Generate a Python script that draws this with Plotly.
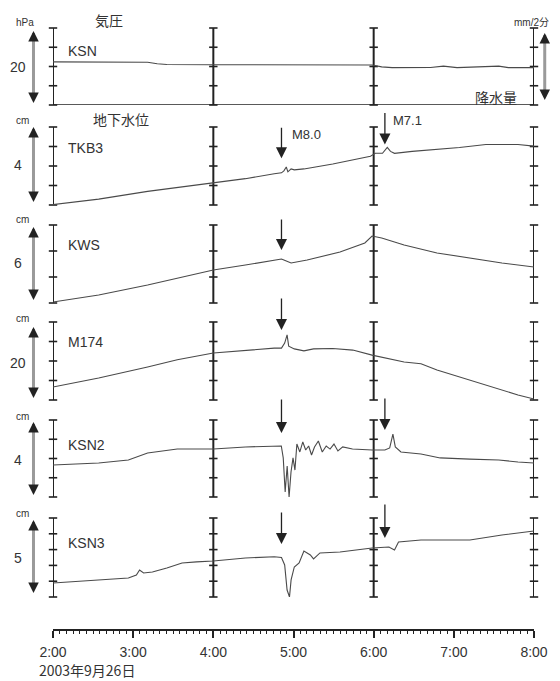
import plotly.graph_objects as go

# ---------------- data (time in decimal hours, 2003-09-26) ----------------
grid_hours = [2, 4, 6, 8]
quake_times = [4.85, 6.14]
quake_labels = ["M8.0", "M7.1"]
tick_hours = [2, 3, 4, 5, 6, 7, 8]
tick_labels = ["2:00", "3:00", "4:00", "5:00", "6:00", "7:00", "8:00"]

# KSN air pressure (relative hPa, panel span 20 hPa)
ksn_t = [2.0, 3.18, 3.30, 3.42, 4.0, 5.98, 6.10, 6.23, 6.71, 6.87, 7.04, 7.32, 7.56, 7.68, 8.0]
ksn_v = [11.2, 11.1, 10.7, 10.5, 10.45, 10.4, 9.9, 9.7, 9.75, 10.1, 9.7, 10.0, 10.1, 9.7, 9.7]
rain_t = [2.0, 3.0, 4.0, 5.0, 6.0, 7.0, 8.0]
rain_v = [0, 0, 0, 0, 0, 0, 0]

# TKB3 (cm, span 4)
tkb3_t = [2.0, 2.57, 3.18, 4.0, 4.40, 4.76, 4.85, 4.88, 4.91, 4.93, 4.97, 5.01, 5.13, 5.49, 5.96, 6.02, 6.11, 6.17, 6.21, 6.26, 6.48, 7.07, 7.40, 7.80, 8.0]
tkb3_v = [0.02, 0.3, 0.7, 1.15, 1.35, 1.6, 1.65, 1.75, 1.95, 1.7, 1.85, 1.8, 1.85, 2.1, 2.5, 2.65, 2.65, 2.95, 2.75, 2.65, 2.75, 2.95, 3.1, 3.1, 3.02]

# KWS (cm, span 6)
kws_t = [2.0, 2.57, 3.18, 4.0, 4.40, 4.76, 4.85, 4.88, 4.97, 5.17, 5.58, 5.89, 5.98, 6.10, 6.38, 6.79, 7.20, 7.60, 8.0]
kws_v = [0.08, 0.62, 1.38, 2.54, 2.92, 3.31, 3.38, 3.31, 3.08, 3.31, 3.92, 4.62, 5.15, 5.0, 4.46, 3.85, 3.46, 3.08, 2.77]

# M174 (cm, span 20)
m174_t = [2.0, 2.57, 3.18, 3.55, 4.0, 4.40, 4.76, 4.85, 4.89, 4.92, 4.94, 5.01, 5.07, 5.13, 5.25, 5.49, 5.74, 5.98, 6.38, 6.59, 6.79, 7.20, 7.60, 7.80, 8.0]
m174_v = [3.33, 5.64, 8.46, 10.3, 12.05, 12.8, 13.3, 13.3, 14.6, 16.7, 13.8, 13.1, 12.8, 12.6, 13.1, 13.2, 12.8, 11.5, 9.74, 9.3, 7.69, 5.13, 2.56, 1.28, 0.26]

# KSN2 (cm, span 4)
ksn2_t = [2.0, 2.57, 2.94, 3.18, 3.55, 4.0, 4.40, 4.76, 4.848, 4.872, 4.896, 4.921, 4.945, 4.969, 4.994,
          5.018, 5.042, 5.079, 5.116, 5.152, 5.189, 5.225, 5.262, 5.31, 5.359, 5.408, 5.456, 5.505,
          5.554, 5.614, 5.736, 5.98, 6.14, 6.20, 6.24, 6.27, 6.34, 6.59, 6.83, 7.20, 7.56, 7.80, 8.0]
ksn2_v = [1.66, 1.77, 1.92, 2.29, 2.49, 2.49, 2.6, 2.65, 2.65, 2.03, 0.26, 1.61, 0.0, 1.3, 2.03,
          1.4, 2.75, 2.34, 2.86, 2.44, 2.65, 2.18, 2.6, 2.91, 2.34, 2.65, 2.49, 2.75,
          2.39, 2.6, 2.49, 2.44, 2.44, 2.55, 3.27, 2.6, 2.34, 2.23, 2.03, 1.97, 1.92, 1.82, 1.77]

# KSN3 (cm, span 5)
ksn3_t = [2.0, 2.57, 2.94, 3.04, 3.08, 3.13, 3.24, 3.42, 3.61, 3.79, 4.0, 4.40, 4.76, 4.85, 4.89, 4.92, 4.95, 4.97, 5.01, 5.07, 5.13, 5.21, 5.25, 5.33, 5.58, 5.98, 6.19, 6.26, 6.31, 6.59, 7.20, 7.60, 8.0]
ksn3_v = [0.89, 1.08, 1.2, 1.39, 1.71, 1.52, 1.58, 1.84, 2.15, 2.22, 2.28, 2.47, 2.55, 2.5, 2.03, 0.44, 0.0, 1.08, 1.9, 2.15, 2.91, 2.66, 2.41, 2.79, 2.85, 3.1, 3.16, 2.98, 3.48, 3.61, 3.61, 3.92, 4.18]

# panel definitions: name, time, values, span (scale bar), tick step, scale-bar label, unit
panels = [
    ("KSN", ksn_t, ksn_v, 20, 5, "20", "hPa"),
    ("TKB3", tkb3_t, tkb3_v, 4, 1, "4", "cm"),
    ("KWS", kws_t, kws_v, 6, 2, "6", "cm"),
    ("M174", m174_t, m174_v, 20, 5, "20", "cm"),
    ("KSN2", ksn2_t, ksn2_v, 4, 1, "4", "cm"),
    ("KSN3", ksn3_t, ksn3_v, 5, 1, "5", "cm"),
]

# ---------------- layout geometry ----------------
OFF = 8                      # default page body margin
W, H = 560 - OFF, 681 - OFF  # figure size
PLOT_L, PLOT_R, PLOT_T, PLOT_B = 53, 546, 28, 630   # plot area in page pixels
L, T = PLOT_L - OFF, PLOT_T - OFF
PW, PH = PLOT_R - PLOT_L, PLOT_B - PLOT_T
R, B = W - L - PW, H - T - PH
panel_px = [(28, 105), (127, 205), (225, 303), (322, 400), (420, 497), (518, 597)]
name_y = [51, 148, 245, 342, 445, 543]
bar_top = [31, 127, 227, 327, 422, 520]
bar_bot = [103, 202, 300, 398, 495, 593]
val_y = [67, 165, 263, 363, 460, 558]
unit_y = [22, 120, 219, 318, 416, 513]


def px(x):
    return (x - PLOT_L) / PW


def py(y):
    return (PLOT_B - y) / PH


FONT = "Liberation Sans, Arial, Noto Sans CJK JP, sans-serif"
JFONT = "Noto Sans CJK JP, sans-serif"
LINE_C = "#4a4a4a"
INK = "#222222"
TXT = "#333333"
BAR_C = "#9a9a9a"

fig = go.Figure()
layout_axes = {}
annotations = []


def label(text, x, y, size, family=FONT, xanchor="center"):
    return dict(text=text, x=px(x), y=py(y), xref="paper", yref="paper",
                xanchor=xanchor, yanchor="middle", showarrow=False,
                font=dict(size=size, color=TXT, family=family))


def scale_bar(xp, ytop, ybot):
    out = [dict(text="", x=px(xp), y=py(ytop + 2), xref="paper", yref="paper",
                ax=0, ay=(ybot - ytop) - 4, showarrow=True, arrowhead=0,
                arrowwidth=3, arrowcolor=BAR_C)]
    out.append(dict(text="", x=px(xp), y=py(ytop), xref="paper", yref="paper",
                    ax=0, ay=8, showarrow=True, arrowhead=2, arrowsize=1.5,
                    arrowwidth=1.4, arrowcolor=INK))
    out.append(dict(text="", x=px(xp), y=py(ybot), xref="paper", yref="paper",
                    ax=0, ay=-8, showarrow=True, arrowhead=2, arrowsize=1.5,
                    arrowwidth=1.4, arrowcolor=INK))
    return out


for i, (name, t, v, span, step, slabel, unit) in enumerate(panels):
    yname = "y" if i == 0 else f"y{i + 1}"
    ykey = "yaxis" if i == 0 else f"yaxis{i + 1}"
    top, bot = panel_px[i]
    layout_axes[ykey] = dict(domain=[py(bot), py(top)], range=[0, span], visible=False,
                             fixedrange=True, anchor="x")

    # bracket lines at 2:00, 4:00, 6:00, 8:00
    bx, by = [], []
    for g in grid_hours:
        bx += [g, g, None]
        by += [0, span, None]
    fig.add_trace(go.Scatter(x=bx, y=by, mode="lines", yaxis=yname, cliponaxis=False,
                             line=dict(color=INK, width=2), hoverinfo="skip", showlegend=False))
    tx, ty = [], []
    n = int(round(span / step))
    for g in grid_hours:
        for k in range(n + 1):
            tx.append(g)
            ty.append(k * step)
    fig.add_trace(go.Scatter(x=tx, y=ty, mode="markers", yaxis=yname, cliponaxis=False,
                             marker=dict(symbol="line-ew", size=6, line=dict(color=INK, width=1.6)),
                             hoverinfo="skip", showlegend=False))

    # data line
    fig.add_trace(go.Scatter(x=t, y=v, mode="lines", yaxis=yname, cliponaxis=False,
                             line=dict(color=LINE_C, width=1.1), showlegend=False, name=name))

    annotations.append(label(name, 66, name_y[i], 14, xanchor="left"))
    annotations += scale_bar(33, bar_top[i], bar_bot[i])
    annotations.append(label(slabel, 17, val_y[i], 14))
    annotations.append(label(unit, 22 if unit == "cm" else 24, unit_y[i], 10))

# precipitation zero line in the top panel
fig.add_trace(go.Scatter(x=rain_t, y=rain_v, mode="lines", yaxis="y", cliponaxis=False,
                         line=dict(color=INK, width=1.4), hoverinfo="skip", showlegend=False))

# earthquake arrows: (panel index, quake index, tip value, arrow length px)
eq_arrows = [
    (1, 0, 2.4, 32), (1, 1, 3.1, 33),
    (2, 0, 4.08, 32),
    (3, 0, 17.95, 33),
    (4, 0, 3.32, 35), (4, 1, 3.48, 33),
    (5, 0, 3.35, 33), (5, 1, 3.73, 35),
]
for pi, qi, tipv, ln in eq_arrows:
    yname = "y" if pi == 0 else f"y{pi + 1}"
    annotations.append(dict(text="", x=quake_times[qi], y=tipv, xref="x", yref=yname,
                            ax=0, ay=-ln, showarrow=True, arrowhead=2, arrowsize=1.7,
                            arrowwidth=1.3, arrowcolor=INK))

annotations.append(label(quake_labels[0], 296, 134, 13, xanchor="left"))
annotations.append(label(quake_labels[1], 399, 121, 13, xanchor="left"))

# titles / misc texts
annotations += [
    label("気圧", 110, 20, 14, JFONT),
    label("地下水位", 123, 119, 14, JFONT),
    label("降水量", 507, 97, 14, JFONT),
    label("mm/2分", 523, 23, 10, xanchor="left"),
    label("2003年9月26日", 37, 670, 14, JFONT, xanchor="left"),
]
annotations += scale_bar(557, 33, 100)

fig.update_layout(
    width=W, height=H, autosize=False,
    margin=dict(l=L, r=R, t=T, b=B, pad=0),
    paper_bgcolor="white", plot_bgcolor="white",
    showlegend=False,
    font=dict(family=FONT, color=TXT),
    xaxis=dict(range=[2, 8], anchor="free", position=0, showgrid=False, zeroline=False,
               showline=True, linecolor=INK, linewidth=1.6,
               tickmode="array", tickvals=tick_hours, ticktext=tick_labels,
               ticks="outside", ticklen=7, tickwidth=1.6, tickcolor=INK,
               ticklabelstandoff=2, tickfont=dict(size=14, color=TXT, family=FONT),
               minor=dict(dtick=1 / 12, ticks="outside", ticklen=3, tickwidth=1, tickcolor=INK,
                          showgrid=False),
               fixedrange=True),
    annotations=annotations,
    **layout_axes,
)

fig.write_html("out.html")
